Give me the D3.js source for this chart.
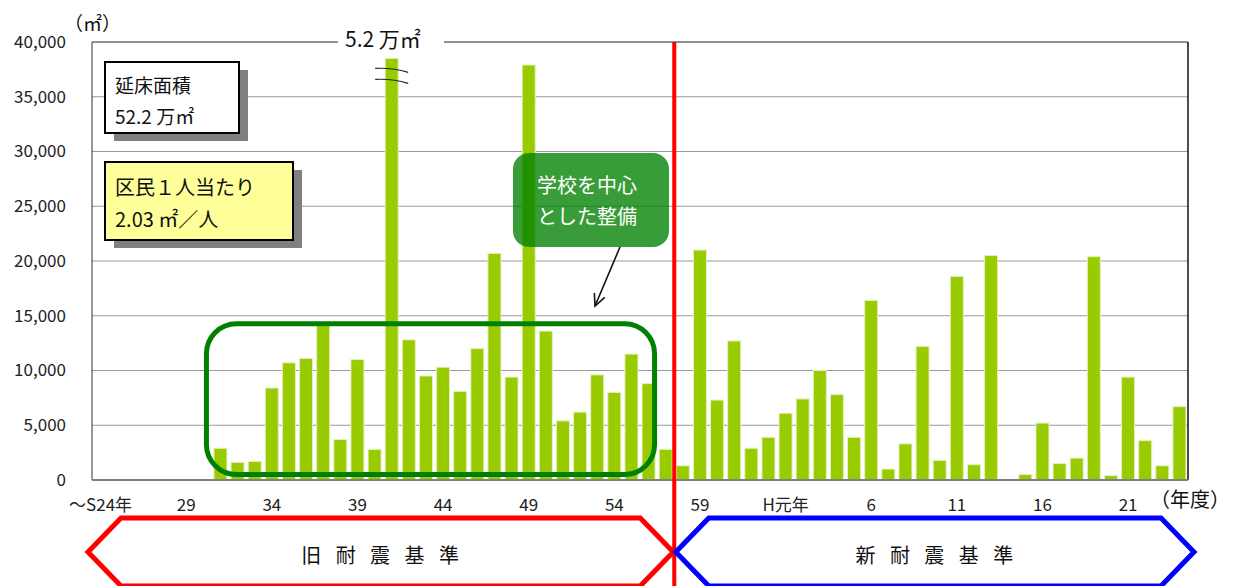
<!DOCTYPE html>
<html><head><meta charset="utf-8">
<script src="https://cdn.jsdelivr.net/npm/d3@7"></script>
<style>
body{margin:0;background:#fff}
svg{display:block}
text{font-family:"Noto Sans CJK JP","Noto Sans",sans-serif}
</style>
</head><body>
<svg id="c" width="1243" height="586"></svg>
<script>
// ---- data ----
const categories = ["S24","S25","S26","S27","S28","S29","S30","S31","S32","S33","S34","S35","S36","S37","S38","S39","S40","S41","S42","S43","S44","S45","S46","S47","S48","S49","S50","S51","S52","S53","S54","S55","S56","S57","S58","S59","S60","S61","S62","S63","H1","H2","H3","H4","H5","H6","H7","H8","H9","H10","H11","H12","H13","H14","H15","H16","H17","H18","H19","H20","H21","H22","H23","H24"];
const values = [0,0,0,0,0,0,0,2900,1600,1700,8400,10700,11100,14100,3700,11000,2800,52000,12800,9500,10300,8100,12000,20700,9400,37900,13600,5400,6200,9600,8000,11500,8800,2800,1300,21000,7300,12700,2900,3900,6100,7400,10000,7800,3900,16400,1000,3300,12200,1800,18600,1400,20500,0,500,5200,1500,2000,20400,400,9400,3600,1300,6700];
const tickCategories = ["S24","S29","S34","S39","S44","S49","S54","S59","H1","H6","H11","H16","H21"];
const tickLabels = ["～S24年","29","34","39","44","49","54","59","H元年","6","11","16","21"];
const yTicks = [0,5000,10000,15000,20000,25000,30000,35000,40000];
const brokenCap = 38500;            // off-scale bar is drawn up to here with a break mark
const brokenLabel = "5.2 万㎡";
const yUnit = "（㎡）";
const xUnit = "（年度）";
const boxTotal = ["延床面積","52.2 万㎡"];
const boxPerCapita = ["区民１人当たり","2.03 ㎡／人"];
const boxNote = ["学校を中心","とした整備"];
const eraOld = "旧 耐 震 基 準";
const eraNew = "新 耐 震 基 準";
const groupFrom = "S31", groupTo = "S56", eraSplit = "S58";

// ---- layout ----
const svg = d3.select("#c");
const L = 92, R = 1188, T = 42, B = 480;
const x = d3.scaleBand().domain(categories).range([L, R]).paddingInner(0.24).paddingOuter(0.12);
const y = d3.scaleLinear().domain([0, 40000]).range([B, T]);

svg.append("rect").attr("width",1243).attr("height",586).attr("fill","#fff");

// gridlines
svg.append("g").selectAll("line").data(yTicks.filter(d => d > 0 && d < 40000)).join("line")
  .attr("x1", L).attr("x2", R).attr("y1", d => y(d)).attr("y2", d => y(d))
  .attr("stroke", "#9a9a9a").attr("stroke-width", 1);

// bars
svg.append("g").selectAll("rect").data(values.map((v,i)=>({c:categories[i], v}))).join("rect")
  .attr("x", d => x(d.c)).attr("width", x.bandwidth())
  .attr("y", d => y(Math.min(d.v, brokenCap))).attr("height", d => B - y(Math.min(d.v, brokenCap)))
  .attr("fill", "#99CC00").attr("stroke", "#e3f0c2").attr("stroke-width", 1)
  .attr("visibility", d => d.v > 0 ? "visible" : "hidden");

// frame
svg.append("line").attr("x1",L).attr("x2",L).attr("y1",T).attr("y2",B).attr("stroke","#333").attr("stroke-width",1);
svg.append("line").attr("x1",R).attr("x2",R).attr("y1",T).attr("y2",B).attr("stroke","#111").attr("stroke-width",1.5);
svg.append("line").attr("x1",L).attr("x2",R).attr("y1",B).attr("y2",B).attr("stroke","#808080").attr("stroke-width",2);
svg.append("line").attr("x1",L).attr("x2",338).attr("y1",T).attr("y2",T).attr("stroke","#222").attr("stroke-width",1);
svg.append("line").attr("x1",444).attr("x2",R).attr("y1",T).attr("y2",T).attr("stroke","#222").attr("stroke-width",1);

// axes
const yAxis = svg.append("g").attr("transform",`translate(${L},0)`)
  .call(d3.axisLeft(y).tickValues(yTicks).tickFormat(d3.format(",")).tickSize(0).tickPadding(26));
yAxis.select(".domain").remove();
yAxis.selectAll("text").attr("font-size",17).attr("fill","#222").attr("font-family",'"Noto Sans CJK JP",sans-serif');

const xAxis = svg.append("g").attr("transform",`translate(0,${B})`)
  .call(d3.axisBottom(x).tickValues(tickCategories).tickFormat((d,i)=>tickLabels[i]).tickSize(0).tickPadding(19));
xAxis.select(".domain").remove();
xAxis.selectAll("text").attr("font-size",17).attr("fill","#222").attr("font-family",'"Noto Sans CJK JP",sans-serif');

// units
svg.append("text").attr("x",64).attr("y",31).attr("font-size",19).attr("fill","#111").text(yUnit);
svg.append("text").attr("x",1150).attr("y",507).attr("font-size",20).attr("fill","#111").text(xUnit);

// off-scale label and break mark
svg.append("text").attr("x",345).attr("y",47).attr("font-size",21).attr("fill","#111")
  .attr("font-family",'"Liberation Sans","Noto Sans CJK JP",sans-serif').text(brokenLabel);
const bi = values.indexOf(d3.max(values));
const bx0 = x(categories[bi]) - 10, bx1 = x(categories[bi]) + x.bandwidth() + 10;
const by = y(brokenCap);
[10, 21].forEach(off => {
  svg.append("path")
    .attr("d", `M${bx0},${by+off} Q${(bx0+bx1)/2},${by+off-1} ${bx1},${by+off+4}`)
    .attr("fill","none").attr("stroke","#222").attr("stroke-width",1.2);
});

// group outline
const gx0 = x(groupFrom) - 7.5, gx1 = x(groupTo) + x.bandwidth() - 0.5;
svg.append("rect").attr("x",gx0).attr("y",y(14500)+2.5).attr("width",gx1-gx0).attr("height",B-3-(y(14500)+2.5)-2.5)
  .attr("rx",30).attr("fill","none").attr("stroke","#008000").attr("stroke-width",5);

// note box (semi-transparent)
svg.append("rect").attr("x",513).attr("y",153).attr("width",156).attr("height",94).attr("rx",16)
  .attr("fill","#008000").attr("fill-opacity",0.78);
boxNote.forEach((t,i)=> svg.append("text").attr("x",537).attr("y",193+i*31).attr("font-size",20).attr("fill","#fff").text(t));
// arrow
{
  const ax0=620, ay0=247, ax1=595, ay1=306;
  svg.append("line").attr("x1",ax0).attr("y1",ay0).attr("x2",ax1).attr("y2",ay1).attr("stroke","#111").attr("stroke-width",1.6);
  const ang = Math.atan2(ay1-ay0, ax1-ax0), h = 13, sp = 0.45;
  svg.append("path").attr("d",`M${ax1-h*Math.cos(ang-sp)},${ay1-h*Math.sin(ang-sp)} L${ax1},${ay1} L${ax1-h*Math.cos(ang+sp)},${ay1-h*Math.sin(ang+sp)}`)
    .attr("fill","none").attr("stroke","#111").attr("stroke-width",1.6);
}

// info boxes
function infoBox(bx, by, w, h, fill, lines, fs, ty0, dy) {
  svg.append("rect").attr("x",bx+9).attr("y",by+8).attr("width",w).attr("height",h).attr("fill","#808080");
  svg.append("rect").attr("x",bx).attr("y",by).attr("width",w).attr("height",h).attr("fill",fill).attr("stroke","#000").attr("stroke-width",2);
  lines.forEach((t,i)=> svg.append("text").attr("x",bx+10).attr("y",ty0+i*dy).attr("font-size",fs).attr("fill","#111").text(t));
}
infoBox(105, 62, 134, 71, "#ffffff", boxTotal, 19, 93, 31);
infoBox(105, 162, 188, 78, "#ffff99", boxPerCapita, 20, 195, 32);

// era split line
const splitX = x(eraSplit) - x.step()*x.paddingInner()/2;
svg.append("line").attr("x1",splitX).attr("x2",splitX).attr("y1",T).attr("y2",586).attr("stroke","#ff0000").attr("stroke-width",4);

// era arrows
function hexArrow(x0, x1, color, label) {
  const yt = 518, ym = 552, yb = 586, k = 33;
  svg.append("path").attr("d",`M${x0},${ym} L${x0+k},${yt} L${x1-k},${yt} L${x1},${ym} L${x1-k},${yb} L${x0+k},${yb} Z`)
    .attr("fill","none").attr("stroke",color).attr("stroke-width",5).attr("stroke-linejoin","miter");
  svg.append("text").attr("x",(x0+x1)/2+2).attr("y",563).attr("text-anchor","middle").attr("font-size",20)
    .attr("letter-spacing","5px").attr("fill","#111").text(label);
}
hexArrow(88, splitX-1, "#ff0000", eraOld);
hexArrow(splitX+1.5, 1194, "#0000ff", eraNew);
</script>
</body></html>
